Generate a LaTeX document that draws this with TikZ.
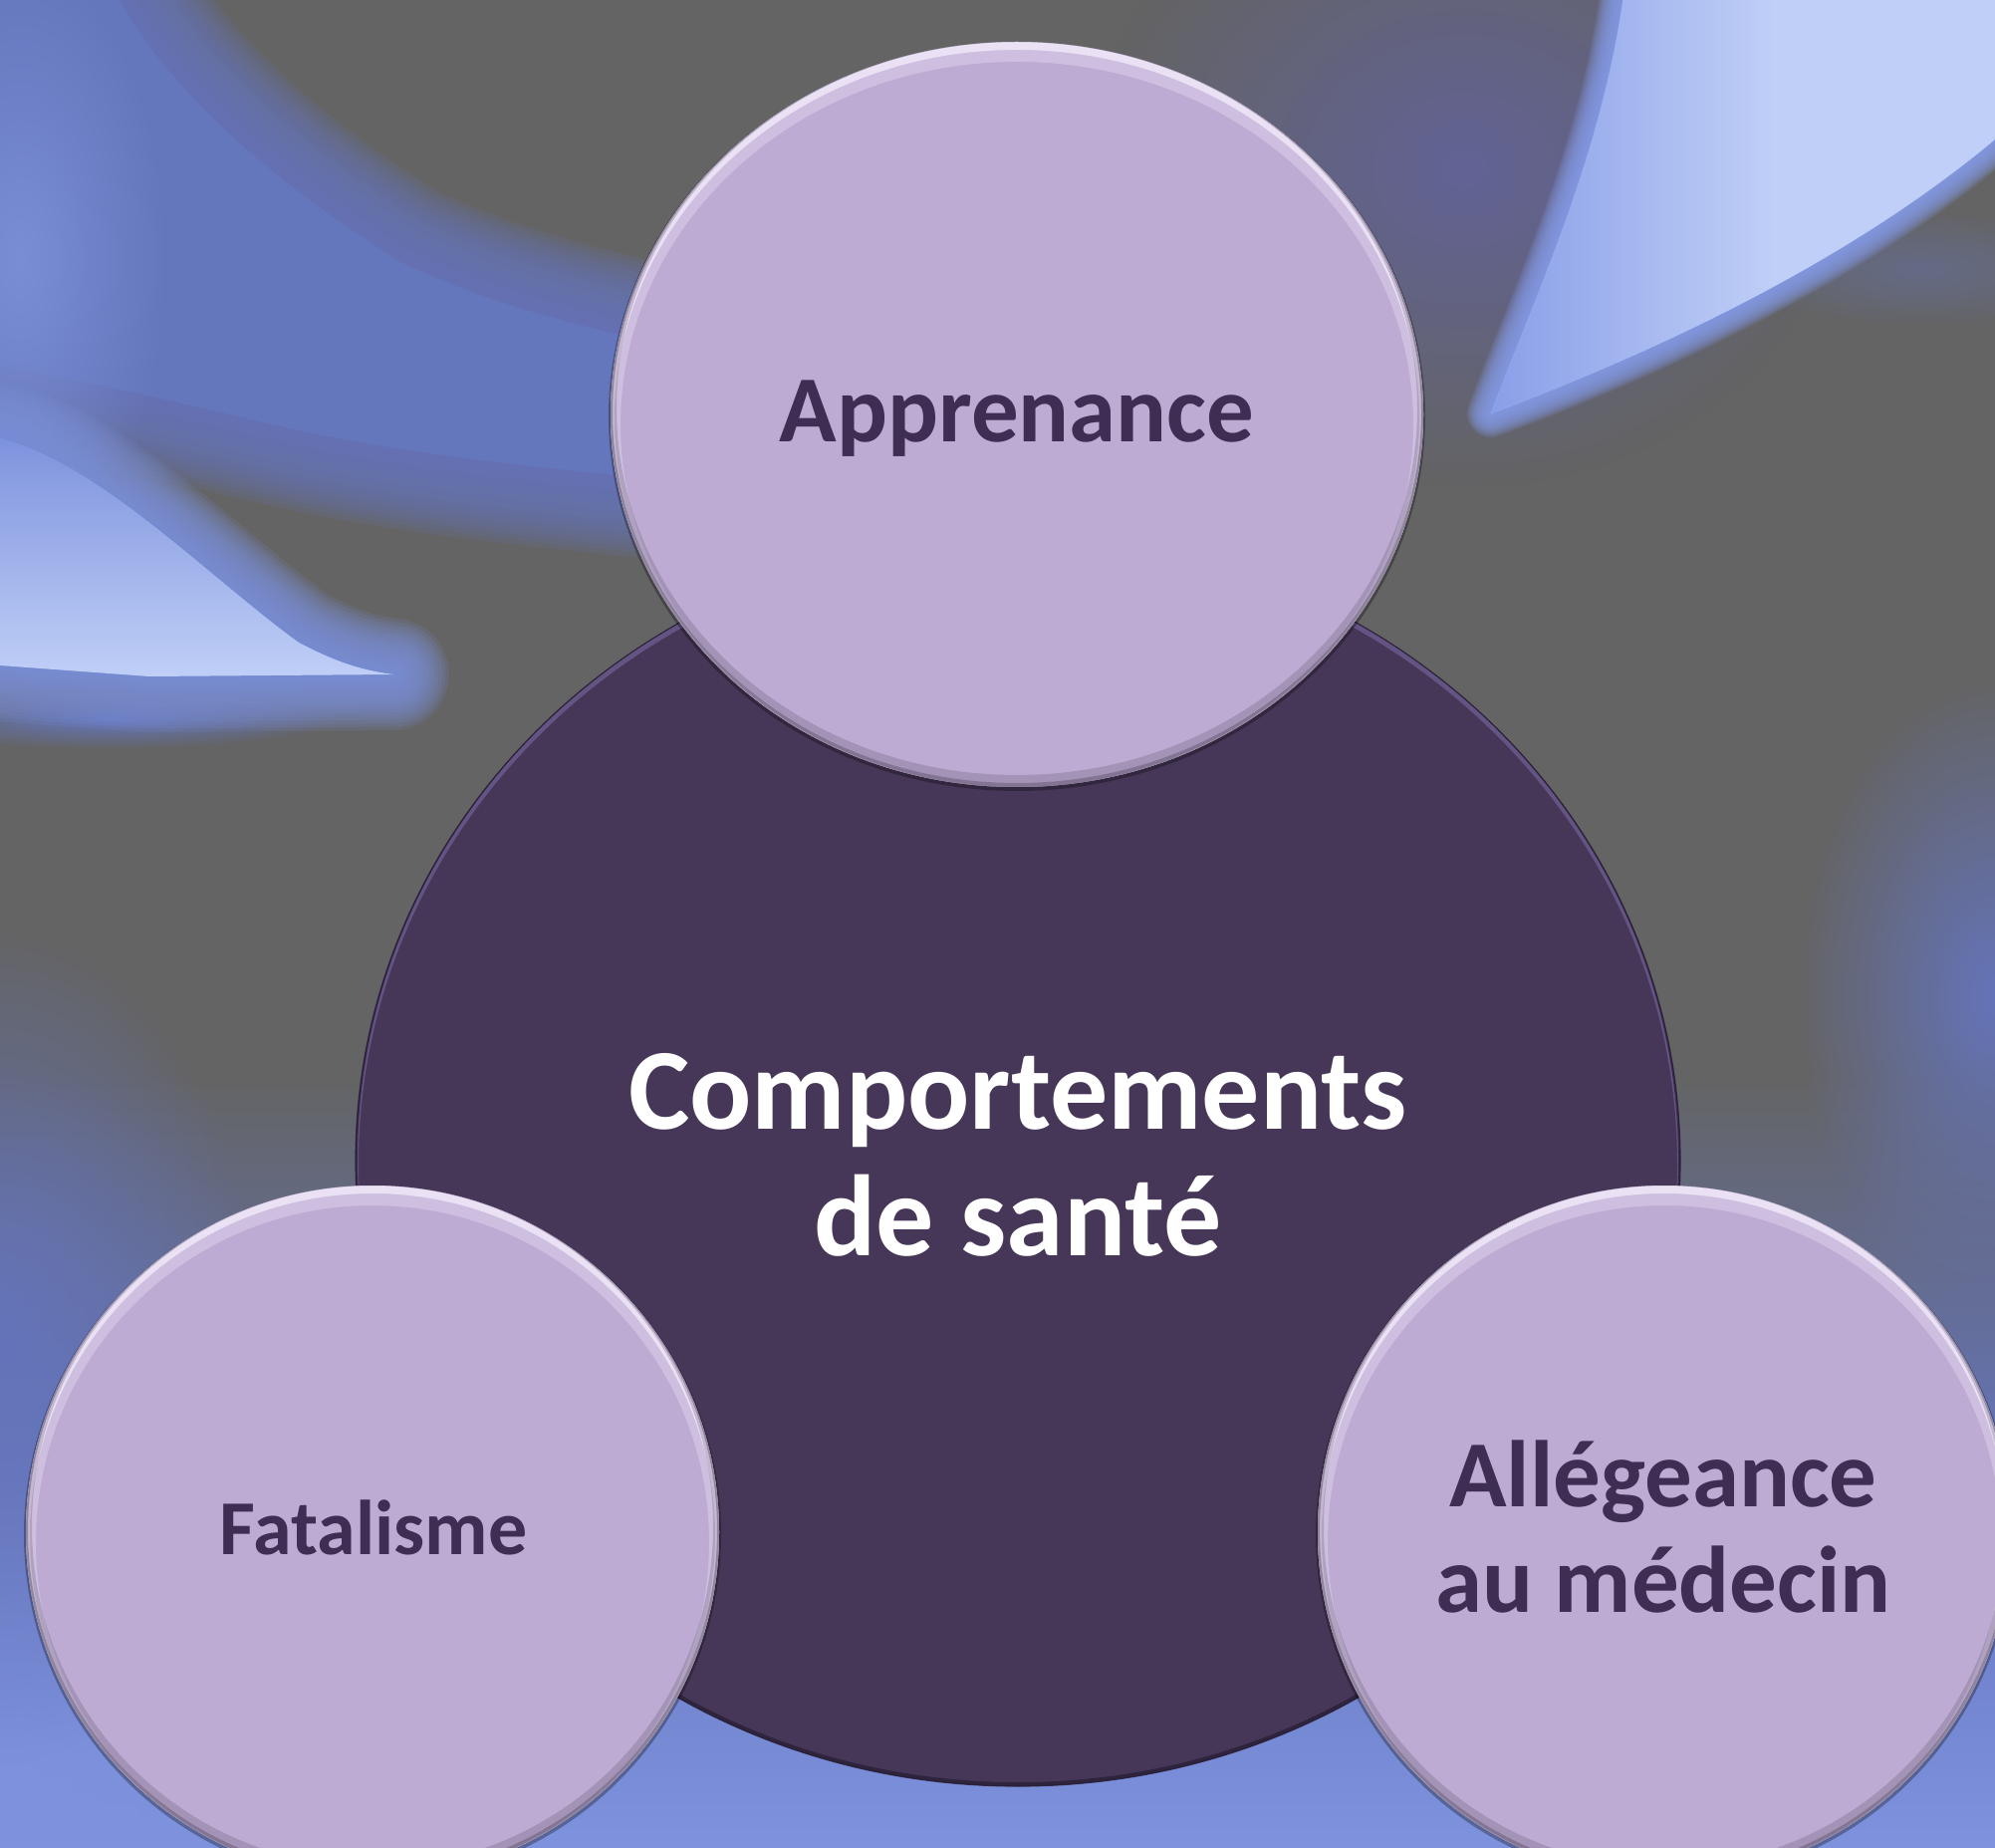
\documentclass[tikz,border=0pt]{standalone}
\usepackage{fontspec}
\setmainfont{Carlito}
\usetikzlibrary{fadings}

\definecolor{bggray}{RGB}{100,100,100}
\definecolor{blueA}{RGB}{100,116,186}
\definecolor{blueB}{RGB}{126,146,222}
\definecolor{blueMid}{RGB}{100,118,188}
\definecolor{blueLight}{RGB}{122,142,214}
\definecolor{streak}{RGB}{192,207,247}
\definecolor{streakBlue}{RGB}{134,156,232}
\definecolor{glowPurple}{RGB}{98,98,150}
\definecolor{darkfill}{RGB}{70,55,88}
\definecolor{darkrim}{RGB}{100,84,132}
\definecolor{darkedge}{RGB}{38,28,50}
\definecolor{lightfill}{RGB}{189,171,211}
\definecolor{lighthi}{RGB}{246,240,255}
\definecolor{lightsh}{RGB}{105,92,120}
\definecolor{textdark}{RGB}{63,46,83}

\tikzfading[name=softglow, inner color=transparent!0, outer color=transparent!100]
\tikzfading[name=fadeleft, left color=transparent!0, right color=transparent!100]

% soft halo around a path: colour, width step, path
\newcommand{\softhalo}[3]{%
  \foreach \i in {1,...,16} {\draw[#1, line width={\i*#2}, opacity=0.15, line join=round] #3;}}

\def\bluearea{(-100,-100) -- (110,-100) -- (120,0) .. controls (170,90) and (270,180) .. (400,262) .. controls (480,300) and (560,322) .. (640,340) -- (650,480) .. controls (500,466) and (380,450) .. (300,432) .. controls (200,410) and (100,382) .. (-100,350) -- cycle}
\def\leftstreakpath{(0,440) .. controls (100,465) and (210,580) .. (300,645) .. controls (340,666) and (365,673) .. (395,677) -- (150,679) -- (0,668) -- cycle}
\def\crescentpath{(1497,415) .. controls (1650,358) and (1850,268) .. (2003,140) -- (2003,-20) -- (1632,-20) .. controls (1612,150) and (1540,300) .. (1497,415) -- cycle}

\begin{document}
\begin{tikzpicture}[x=0.5pt,y=-0.5pt,
  lbl/.style={font=\bfseries, text=textdark, inner sep=0pt, anchor=base},
  lblw/.style={font=\bfseries, text=white, inner sep=0pt, anchor=base},
  bigtxt/.style={font=\fontsize{47.5}{53}\selectfont\bfseries},
  centertxt/.style={font=\fontsize{58}{64}\selectfont\bfseries},
  smalltxt/.style={font=\fontsize{39}{44}\selectfont\bfseries}]
\useasboundingbox (0,0) rectangle (2003,1855);

% ---------- background ----------
\fill[bggray] (0,0) rectangle (2003,1855);
\shade[top color=bggray, bottom color=blueA] (0,1080) rectangle (2003,1470);
\shade[top color=blueA, bottom color=blueB] (0,1470) rectangle (2003,1855);
\fill[blueB, path fading=softglow] (0,1850) ellipse [x radius=420, y radius=520];
\fill[blueA, path fading=softglow] (0,1350) ellipse [x radius=260, y radius=420];
\fill[blueA, path fading=softglow] (2003,1000) ellipse [x radius=200, y radius=320];

% top-left blue area (soft edged)
\softhalo{blueMid}{5pt}{\bluearea}
\fill[blueMid] \bluearea;
\fill[blueLight, path fading=softglow] (20,260) ellipse [x radius=150, y radius=300];
\fill[blueMid, path fading=softglow] (110,722) ellipse [x radius=230, y radius=30];

% top-left light streak
\softhalo{streakBlue!70!blueMid}{3.5pt}{\leftstreakpath}
\shade[top color=streakBlue!75!blueMid, bottom color=streak] \leftstreakpath;

% top-right glow and crescent
\fill[glowPurple, path fading=softglow] (1470,170) ellipse [x radius=380, y radius=320];
\fill[bggray!60!blueMid, path fading=softglow] (1930,270) ellipse [x radius=200, y radius=60];
\softhalo{streakBlue}{1.5pt}{\crescentpath}
\fill[streak] \crescentpath;
\begin{scope}
  \clip \crescentpath;
  \fill[streakBlue, path fading=fadeleft] (1480,-10) rectangle (1780,440);
\end{scope}

% ---------- central circle ----------
\coordinate (cC) at (1022,1165);
\fill[darkfill] (1022,1165) ellipse [x radius=665, y radius=628];
\begin{scope}
  \clip (1022,1165) ellipse [x radius=665, y radius=628];
  \draw[darkrim, line width=3pt] (1022,1168) ellipse [x radius=665, y radius=628];
  \draw[darkedge, line width=2pt, opacity=0.7] (1022,1163) ellipse [x radius=665, y radius=628];
\end{scope}
\draw[darkedge, line width=0.6pt, opacity=0.8] (1022,1165) ellipse [x radius=665, y radius=628];

% ---------- satellite circles ----------
% Apprenance
\coordinate (cA) at (1021,416);
\draw[black, opacity=0.3, line width=2pt] (1021,418) ellipse [x radius=408, y radius=374];
\fill[lightfill] (1021,416) ellipse [x radius=408, y radius=374];
\begin{scope}
  \clip (1021,416) ellipse [x radius=408, y radius=374];
  \draw[lighthi, line width=10pt, opacity=0.3] (1021,426) ellipse [x radius=408, y radius=374];
  \draw[lighthi, line width=4pt, opacity=0.7] (1021,420) ellipse [x radius=408, y radius=374];
  \draw[lightsh, line width=6pt, opacity=0.3] (1021,410) ellipse [x radius=408, y radius=374];
  \draw[lightsh, line width=2pt, opacity=0.55] (1021,414) ellipse [x radius=408, y radius=374];
\end{scope}

% Fatalisme
\coordinate (cF) at (374,1538);
\draw[black, opacity=0.3, line width=2pt] (374,1540) circle [radius=348];
\fill[lightfill] (374,1538) circle [radius=348];
\begin{scope}
  \clip (374,1538) circle [radius=348];
  \draw[lighthi, line width=10pt, opacity=0.3] (374,1548) circle [radius=348];
  \draw[lighthi, line width=4pt, opacity=0.7] (374,1542) circle [radius=348];
  \draw[lightsh, line width=6pt, opacity=0.3] (374,1532) circle [radius=348];
  \draw[lightsh, line width=2pt, opacity=0.55] (374,1536) circle [radius=348];
\end{scope}

% Allegeance
\coordinate (cM) at (1671,1538);
\draw[black, opacity=0.3, line width=2pt] (1671,1540) circle [radius=348];
\fill[lightfill] (1671,1538) circle [radius=348];
\begin{scope}
  \clip (1671,1538) circle [radius=348];
  \draw[lighthi, line width=10pt, opacity=0.3] (1671,1548) circle [radius=348];
  \draw[lighthi, line width=4pt, opacity=0.7] (1671,1542) circle [radius=348];
  \draw[lightsh, line width=6pt, opacity=0.3] (1671,1532) circle [radius=348];
  \draw[lightsh, line width=2pt, opacity=0.55] (1671,1536) circle [radius=348];
\end{scope}

% ---------- texts ----------
\node[lblw, centertxt] (tC1) at (1022,1133) {Comportements};
\node[lblw, centertxt] (tC2) at (1022,1260) {de santé};
\node[lbl, bigtxt] (tA) at (1021,444) {Apprenance};
\node[lbl, smalltxt] (tF) at (375,1560) {Fatalisme};
\node[lbl, bigtxt] (tM1) at (1670,1512) {Allégeance};
\node[lbl, bigtxt] (tM2) at (1670,1618) {au médecin};
\end{tikzpicture}
\end{document}
